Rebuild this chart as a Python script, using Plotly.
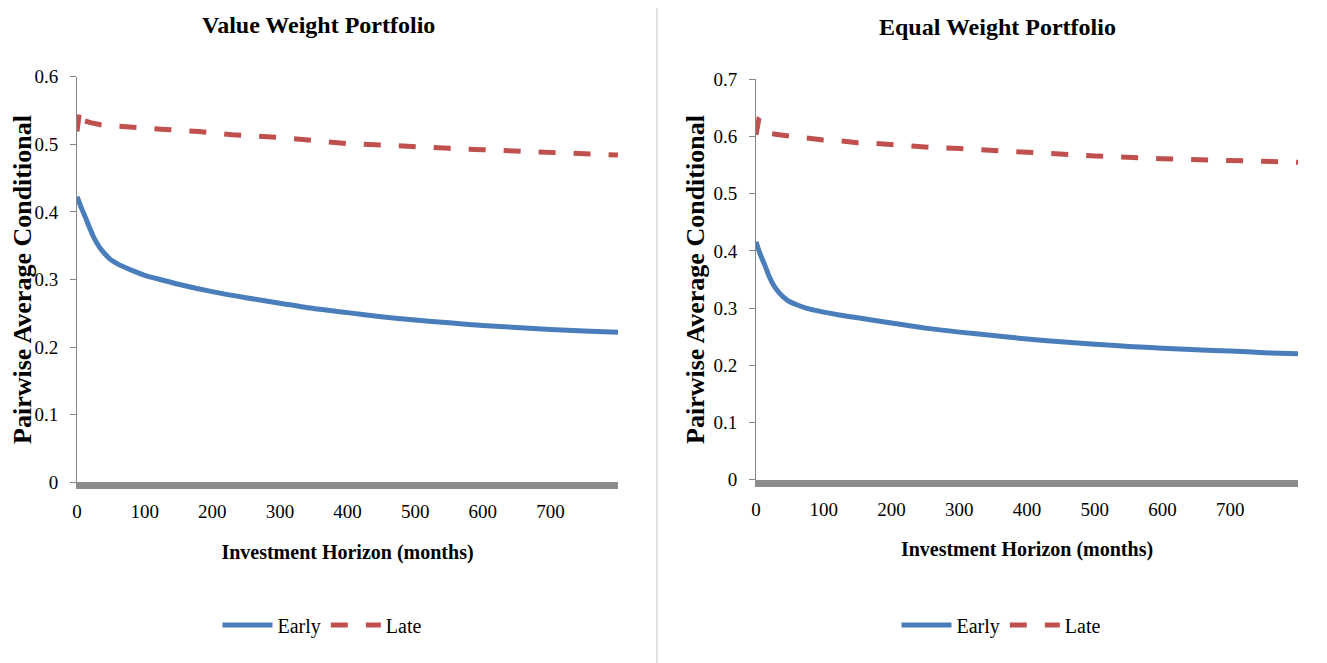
import plotly.graph_objects as go

W, H = 1327, 663

# ---------------- data ----------------
vw_early_x = [0, 3, 6, 12, 18, 24, 30, 36, 42, 48, 55, 62, 73, 85, 98, 123, 150, 200, 250, 300, 350, 400, 450, 500, 550, 600, 650, 700, 750, 800]
vw_early_y = [0.4225, 0.415, 0.407, 0.393, 0.378, 0.364, 0.353, 0.344, 0.337, 0.331, 0.326, 0.322, 0.317, 0.312, 0.307, 0.300, 0.293, 0.282, 0.273, 0.265, 0.257, 0.251, 0.245, 0.240, 0.236, 0.232, 0.229, 0.226, 0.224, 0.222]

vw_late_x = [0, 2, 4, 6, 10, 20, 35, 57, 80, 130, 180, 230, 300, 350, 400, 450, 500, 550, 600, 650, 700, 750, 800]
vw_late_y = [0.519, 0.545, 0.551, 0.540, 0.535, 0.532, 0.529, 0.527, 0.525, 0.522, 0.519, 0.514, 0.510, 0.505, 0.501, 0.499, 0.496, 0.494, 0.492, 0.490, 0.488, 0.486, 0.484]

ew_early_x = [0, 3, 7, 14, 20, 26, 32, 38, 44, 50, 62, 74, 100, 123, 150, 200, 250, 300, 350, 400, 450, 500, 550, 600, 650, 700, 750, 800]
ew_early_y = [0.416, 0.405, 0.392, 0.372, 0.354, 0.340, 0.330, 0.322, 0.316, 0.311, 0.305, 0.300, 0.293, 0.288, 0.283, 0.274, 0.265, 0.258, 0.252, 0.246, 0.241, 0.237, 0.233, 0.230, 0.227, 0.225, 0.222, 0.220]

ew_late_x = [0, 2, 4, 7, 10, 15, 23, 48, 72, 99, 126, 150, 177, 204, 229, 258, 300, 400, 500, 600, 700, 800]
ew_late_y = [0.603, 0.622, 0.629, 0.627, 0.624, 0.612, 0.605, 0.601, 0.597, 0.594, 0.592, 0.589, 0.588, 0.585, 0.583, 0.581, 0.579, 0.572, 0.566, 0.561, 0.558, 0.555]

x_ticks = [0, 100, 200, 300, 400, 500, 600, 700]
vw_y_ticks = [0, 0.1, 0.2, 0.3, 0.4, 0.5, 0.6]
ew_y_ticks = [0, 0.1, 0.2, 0.3, 0.4, 0.5, 0.6, 0.7]

titles = ["Value Weight Portfolio", "Equal Weight Portfolio"]
x_title = "Investment Horizon (months)"
y_title = "Pairwise Average Conditional"
series_names = ["Early", "Late"]

# ---------------- style ----------------
BLUE = "#4A7EBB"
RED = "#C0504D"
FONT = "Liberation Serif, Times New Roman, serif"
LW = 5
DASH = "17px,18px"
OFF = 8  # page body margin seen in the screenshot

fig = go.Figure()

def px_x(p):
    return (p - OFF) / W

def px_y(p):
    return 1 - (p - OFF) / H

# left panel
fig.add_trace(go.Scatter(x=vw_early_x, y=vw_early_y, mode="lines", name=series_names[0],
                         line=dict(color=BLUE, width=LW, shape="spline", smoothing=0.6),
                         xaxis="x", yaxis="y", legend="legend"))
fig.add_trace(go.Scatter(x=vw_late_x, y=vw_late_y, mode="lines", name=series_names[1],
                         line=dict(color=RED, width=LW, dash=DASH), xaxis="x", yaxis="y", legend="legend"))
# right panel
fig.add_trace(go.Scatter(x=ew_early_x, y=ew_early_y, mode="lines", name=series_names[0],
                         line=dict(color=BLUE, width=LW, shape="spline", smoothing=0.6),
                         xaxis="x2", yaxis="y2", legend="legend2"))
fig.add_trace(go.Scatter(x=ew_late_x, y=ew_late_y, mode="lines", name=series_names[1],
                         line=dict(color=RED, width=LW, dash=DASH), xaxis="x2", yaxis="y2", legend="legend2"))

xcommon = dict(range=[0, 800], tickvals=x_ticks, ticks="", showgrid=False, zeroline=False,
               showline=True, linewidth=7, linecolor="#8C8C8C",
               tickfont=dict(family=FONT, size=19, color="#000"),
               title=dict(text=f"<b>{x_title}</b>", font=dict(family=FONT, size=20, color="#000"), standoff=26),
               automargin=False, ticklabelstandoff=6, fixedrange=True)
ycommon = dict(ticks="outside", ticklen=6, tickcolor="#868686", tickwidth=1, showgrid=False, zeroline=False,
               showline=True, linewidth=1, linecolor="#868686",
               tickfont=dict(family=FONT, size=19, color="#000"),
               title=dict(text=f"<b>{y_title}</b>", font=dict(family=FONT, size=26, color="#000"), standoff=1),
               automargin=False, ticklabelstandoff=8, fixedrange=True)

fig.update_layout(
    width=W, height=H,
    margin=dict(l=0, r=0, t=0, b=0),
    paper_bgcolor="white", plot_bgcolor="white",
    xaxis=dict(domain=[px_x(77), px_x(618)], anchor="y", **xcommon),
    yaxis=dict(domain=[px_y(482.3), px_y(76.7)], anchor="x", range=[0, 0.6], tickvals=vw_y_ticks,
               ticktext=[f"{v:g}" for v in vw_y_ticks], **ycommon),
    xaxis2=dict(domain=[px_x(756), px_x(1298)], anchor="y2", **xcommon),
    yaxis2=dict(domain=[px_y(479.7), px_y(79.3)], anchor="x2", range=[0, 0.7], tickvals=ew_y_ticks,
                ticktext=[f"{v:g}" for v in ew_y_ticks], **ycommon),
    legend=dict(orientation="h", x=px_x(322), y=px_y(625), xanchor="center", yanchor="middle",
                font=dict(family=FONT, size=20, color="#000"), bgcolor="rgba(0,0,0,0)", itemwidth=50),
    legend2=dict(orientation="h", x=px_x(1001), y=px_y(625), xanchor="center", yanchor="middle",
                 font=dict(family=FONT, size=20, color="#000"), bgcolor="rgba(0,0,0,0)", itemwidth=50),
    annotations=[
        dict(text=f"<b>{titles[0]}</b>", x=px_x(318), y=px_y(25), xref="paper", yref="paper",
             showarrow=False, font=dict(family=FONT, size=24, color="#000"), xanchor="center", yanchor="middle"),
        dict(text=f"<b>{titles[1]}</b>", x=px_x(997), y=px_y(27), xref="paper", yref="paper",
             showarrow=False, font=dict(family=FONT, size=24, color="#000"), xanchor="center", yanchor="middle"),
    ],
    shapes=[dict(type="line", xref="paper", yref="paper", x0=px_x(657), x1=px_x(657), y0=0, y1=1,
                 line=dict(color="#D9D9D9", width=1.5))],
    showlegend=True,
)

fig.write_html("out.html")
